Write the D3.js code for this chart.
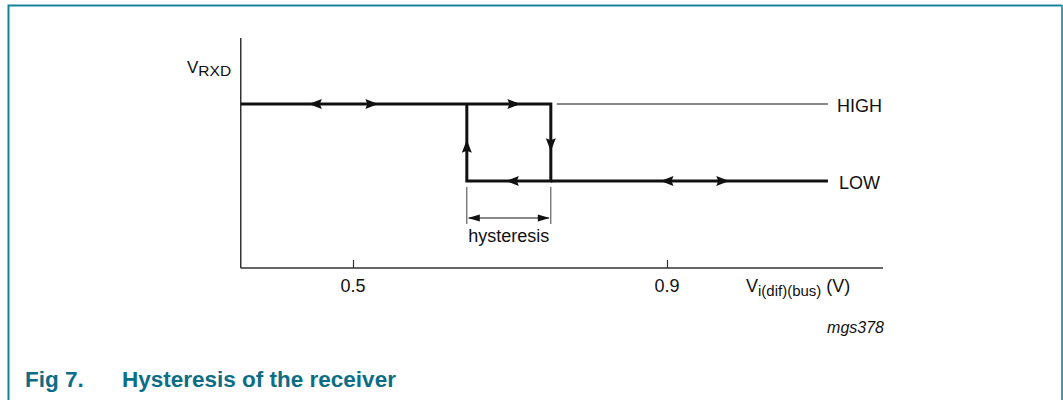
<!DOCTYPE html>
<html>
<head>
<meta charset="utf-8">
<script src="https://cdn.jsdelivr.net/npm/d3@7"></script>
<style>
  body { margin: 0; background: #fff; }
  text { font-family: "Liberation Sans", Arial, sans-serif; fill: #111; }
</style>
</head>
<body>
<script>
//values
var xTicks = [0.5, 0.9];
var levelNames = ["LOW", "HIGH"];
var levelValues = [0, 1];
var thresholdUp = 0.752;   //LOW -> HIGH switch
var thresholdDown = 0.645; //HIGH -> LOW switch
var xStart = 0.357, xEnd = 1.105;
var highArrows = [[0.452, -1], [0.524, 1], [0.705, 1]];
var lowArrows = [[0.703, -1], [0.9, -1], [0.971, 1]];

var width = 1063, height = 400;
var svg = d3.select("body").append("svg")
    .attr("width", width)
    .attr("height", height);

//frame of the figure
svg.append("path")
    .attr("d", "M8.5,400 V5.5 H1062")
    .attr("fill", "none")
    .attr("stroke", "#15859a")
    .attr("stroke-width", 2);
svg.append("line")
    .attr("x1", 1062).attr("x2", 1062).attr("y1", 5).attr("y2", 400)
    .attr("stroke", "#3b9cb0").attr("stroke-width", 2);

var x = d3.scaleLinear().domain([0.5, 0.9]).range([353, 667]);
var y = d3.scaleLinear().domain([0, 1]).range([181, 104]);

var axisX0 = x(xStart), axisY0 = 268;

//axes
svg.append("line")
    .attr("x1", axisX0).attr("x2", axisX0)
    .attr("y1", 38).attr("y2", axisY0)
    .attr("stroke", "#333").attr("stroke-width", 1.5);

var xAxis = d3.axisTop(x).tickValues(xTicks).tickSize(8).tickFormat("");
var gx = svg.append("g")
    .attr("transform", "translate(0," + axisY0 + ")")
    .call(xAxis);
gx.select(".domain").remove();
gx.selectAll(".tick line").attr("stroke", "#333").attr("stroke-width", 1.2);
svg.append("line")
    .attr("x1", axisX0).attr("x2", 883)
    .attr("y1", axisY0).attr("y2", axisY0)
    .attr("stroke", "#333").attr("stroke-width", 1.5);

svg.selectAll(".tickLabel")
    .data(xTicks)
    .enter()
    .append("text")
    .attr("class", "tickLabel")
    .attr("x", function(d){ return x(d); })
    .attr("y", 292)
    .attr("text-anchor", "middle")
    .style("font-size", "18px")
    .text(function(d){ return d; });

//axis titles
var yTitle = svg.append("text").attr("x", 187).attr("y", 73).style("font-size", "17px");
yTitle.append("tspan").text("V");
yTitle.append("tspan").attr("dy", 3).style("font-size", "15.5px").text("RXD");

var xTitle = svg.append("text").attr("x", 746).attr("y", 292).style("font-size", "18px");
xTitle.append("tspan").text("V");
xTitle.append("tspan").attr("dy", 4).style("font-size", "15px").text("i(dif)(bus)");
xTitle.append("tspan").attr("dy", -4).text(" (V)");

svg.append("text")
    .attr("x", 884).attr("y", 333)
    .attr("text-anchor", "end")
    .style("font-size", "16px")
    .style("font-style", "italic")
    .text("mgs378");

//thin continuation of HIGH level
svg.append("line")
    .attr("x1", x(thresholdUp) + 6).attr("x2", x(xEnd))
    .attr("y1", y(1)).attr("y2", y(1))
    .attr("stroke", "#111").attr("stroke-width", 1.2);

//hysteresis loop
var loop = [
    [xStart, 1], [thresholdUp, 1], [thresholdUp, 0], [thresholdDown, 0], [thresholdDown, 1]
];
var line = d3.line()
    .x(function(d){ return x(d[0]); })
    .y(function(d){ return y(d[1]); });
svg.append("path")
    .datum(loop)
    .attr("d", line)
    .attr("fill", "none")
    .attr("stroke", "#111")
    .attr("stroke-width", 3)
    .attr("stroke-linejoin", "miter");
svg.append("line")
    .attr("x1", x(thresholdUp)).attr("x2", x(xEnd))
    .attr("y1", y(0)).attr("y2", y(0))
    .attr("stroke", "#111").attr("stroke-width", 3);

//arrow heads
function arrowHead(cx, cy, angle){
    svg.append("path")
        .attr("d", "M6.5,0 L-6.5,-5 L-4.5,0 L-6.5,5 Z")
        .attr("transform", "translate(" + cx + "," + cy + ") rotate(" + angle + ")")
        .attr("fill", "#111");
}
highArrows.forEach(function(a){ arrowHead(x(a[0]), y(1), a[1] > 0 ? 0 : 180); });
lowArrows.forEach(function(a){ arrowHead(x(a[0]), y(0), a[1] > 0 ? 0 : 180); });
arrowHead(x(thresholdDown), y(0.45), -90);
arrowHead(x(thresholdUp), y(0.47), 90);

//labels for the levels
svg.selectAll(".levelLabel")
    .data(levelValues)
    .enter()
    .append("text")
    .attr("class", "levelLabel")
    .attr("x", function(d){ return d ? 837 : 839; })
    .attr("y", function(d){ return y(d) + 7.5; })
    .style("font-size", "18px")
    .text(function(d, i){ return levelNames[i]; });

//hysteresis dimension
[thresholdDown, thresholdUp].forEach(function(t){
    svg.append("line")
        .attr("x1", x(t)).attr("x2", x(t))
        .attr("y1", 187).attr("y2", 224)
        .attr("stroke", "#111").attr("stroke-width", 0.8);
});
svg.append("line")
    .attr("x1", x(thresholdDown) + 2).attr("x2", x(thresholdUp) - 2)
    .attr("y1", 218).attr("y2", 218)
    .attr("stroke", "#111").attr("stroke-width", 1);
function smallArrow(cx, cy, angle){
    svg.append("path")
        .attr("d", "M0,0 L-12,-3.5 L-12,3.5 Z")
        .attr("transform", "translate(" + cx + "," + cy + ") rotate(" + angle + ")")
        .attr("fill", "#111");
}
smallArrow(x(thresholdDown) + 1, 218, 180);
smallArrow(x(thresholdUp) - 1, 218, 0);
svg.append("text")
    .attr("x", (x(thresholdDown) + x(thresholdUp)) / 2)
    .attr("y", 242)
    .attr("text-anchor", "middle")
    .style("font-size", "18px")
    .text("hysteresis");

//figure caption
svg.append("text")
    .attr("x", 25).attr("y", 387)
    .style("font-size", "22.5px")
    .style("font-weight", "bold")
    .style("fill", "#0b6e86")
    .text("Fig 7.");
svg.append("text")
    .attr("x", 122).attr("y", 387)
    .style("font-size", "22.5px")
    .style("font-weight", "bold")
    .style("fill", "#0b6e86")
    .text("Hysteresis of the receiver");
</script>
</body>
</html>
